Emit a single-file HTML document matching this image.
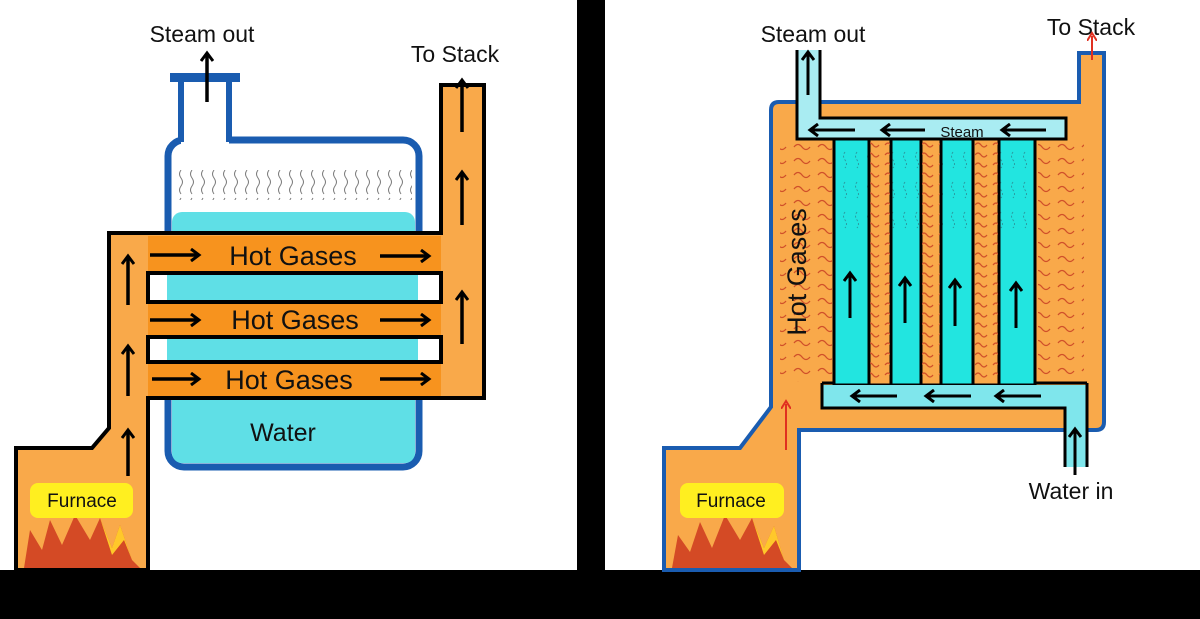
<!DOCTYPE html>
<html><head><meta charset="utf-8"><style>
html,body{margin:0;padding:0;background:#000;width:1200px;height:619px;overflow:hidden}
svg{display:block}
text{font-family:"Liberation Sans",sans-serif}
</style></head><body>
<svg width="1200" height="619" viewBox="0 0 1200 619" xmlns="http://www.w3.org/2000/svg">
<defs>
<pattern id="sq" x="0" y="0" width="11" height="28" patternUnits="userSpaceOnUse">
<path d="M5 2 q-3 4 0 8 q3 4 0 8 q-3 4 0 8" fill="none" stroke="#777" stroke-width="1"/>
</pattern>
<pattern id="wv" x="0" y="0" width="24" height="14" patternUnits="userSpaceOnUse">
<path d="M2 7 q4 -5 8 0 q4 5 8 0" fill="none" stroke="#d0502a" stroke-width="1.3"/>
</pattern>
<pattern id="wvs" x="0" y="0" width="18" height="10" patternUnits="userSpaceOnUse">
<path d="M3 5 q3 -4 6 0 q3 4 6 0" fill="none" stroke="#d0502a" stroke-width="1.2"/>
</pattern>
<pattern id="bw" x="0" y="0" width="12" height="30" patternUnits="userSpaceOnUse">
<path d="M5 2 q-3 4 0 8 q3 4 0 8" fill="none" stroke="#2a9aa0" stroke-width="1" stroke-dasharray="2 2"/>
</pattern>
<marker id="ah" markerWidth="12" markerHeight="14" refX="8" refY="7" orient="auto" markerUnits="userSpaceOnUse"><path d="M1 1 L9 7 L1 13" fill="none" stroke="#000" stroke-width="3"/></marker>
<marker id="ahr" markerWidth="10" markerHeight="10" refX="5" refY="5" orient="auto" markerUnits="userSpaceOnUse"><path d="M0 0 L8 5 L0 10" fill="none" stroke="#e03020" stroke-width="2"/></marker>
</defs>

<rect x="0" y="0" width="577" height="570" fill="#fff"/>
<rect x="605" y="0" width="595" height="570" fill="#fff"/>

<!-- ===== LEFT ===== -->
<text x="202" y="42" font-size="23" text-anchor="middle" fill="#111">Steam out</text>
<text x="455" y="62" font-size="23" text-anchor="middle" fill="#111">To Stack</text>

<rect x="168" y="140" width="251" height="327" rx="16" fill="#fff" stroke="#1a5cb0" stroke-width="7"/>
<rect x="172" y="212" width="243" height="251" rx="10" fill="#5fdfe6"/>
<rect x="178" y="170" width="234" height="30" fill="url(#sq)"/>
<rect x="181" y="78" width="48" height="68" fill="#fff"/>
<line x1="181" y1="78" x2="181" y2="142" stroke="#1a5cb0" stroke-width="6"/>
<line x1="229" y1="78" x2="229" y2="142" stroke="#1a5cb0" stroke-width="6"/>
<rect x="170" y="73" width="70" height="9" fill="#1a5cb0"/>
<line x1="207" y1="102" x2="207" y2="54" stroke="#000" stroke-width="3.5" marker-end="url(#ah)"/>

<path d="M109 233 L441 233 L441 85 L484 85 L484 398 L148 398 L148 570 L16 570 L16 448 L92 448 L109 428 Z" fill="#f9a94a" stroke="#000" stroke-width="4"/>
<rect x="148" y="236" width="293" height="37" fill="#f7931e"/>
<rect x="148" y="302" width="293" height="35" fill="#f7931e"/>
<rect x="148" y="362" width="293" height="34" fill="#f7931e"/>
<rect x="148" y="273" width="293" height="29" fill="#fff" stroke="#000" stroke-width="4"/>
<rect x="167" y="275" width="251" height="25" fill="#5fdfe6"/>
<rect x="148" y="337" width="293" height="25" fill="#fff" stroke="#000" stroke-width="4"/>
<rect x="167" y="339" width="251" height="21" fill="#5fdfe6"/>
<line x1="148" y1="398" x2="148" y2="570" stroke="#000" stroke-width="4"/>

<g font-size="27" fill="#111" text-anchor="middle">
<text x="293" y="265">Hot Gases</text>
<text x="295" y="329">Hot Gases</text>
<text x="289" y="389">Hot Gases</text>
</g>
<g stroke="#000" stroke-width="3.5">
<line x1="150" y1="255" x2="198" y2="255" marker-end="url(#ah)"/>
<line x1="380" y1="256" x2="428" y2="256" marker-end="url(#ah)"/>
<line x1="150" y1="320" x2="198" y2="320" marker-end="url(#ah)"/>
<line x1="380" y1="320" x2="428" y2="320" marker-end="url(#ah)"/>
<line x1="152" y1="379" x2="198" y2="379" marker-end="url(#ah)"/>
<line x1="380" y1="379" x2="428" y2="379" marker-end="url(#ah)"/>
<line x1="128" y1="305" x2="128" y2="257" marker-end="url(#ah)"/>
<line x1="128" y1="396" x2="128" y2="347" marker-end="url(#ah)"/>
<line x1="128" y1="476" x2="128" y2="431" marker-end="url(#ah)"/>
<line x1="462" y1="132" x2="462" y2="81" marker-end="url(#ah)"/>
<line x1="462" y1="225" x2="462" y2="173" marker-end="url(#ah)"/>
<line x1="462" y1="344" x2="462" y2="293" marker-end="url(#ah)"/>
</g>
<text x="283" y="441" font-size="25" text-anchor="middle" fill="#111">Water</text>

<path d="M24 568 L30 530 L42 550 L50 520 L62 545 L75 515 L90 540 L100 518 L112 548 L120 525 L132 560 L140 568 Z" fill="#d44a25"/>
<path d="M100 518 L112 548 L120 525 L132 560 L124 540 L112 555Z" fill="#ffc82a"/>
<rect x="30" y="483" width="103" height="35" rx="8" fill="#ffef20"/>
<text x="82" y="507" font-size="19" text-anchor="middle" fill="#111">Furnace</text>

<!-- ===== RIGHT ===== -->
<text x="813" y="42" font-size="23" text-anchor="middle" fill="#111">Steam out</text>
<text x="1091" y="35" font-size="23" text-anchor="middle" fill="#111">To Stack</text>

<path d="M771 110 Q771 102 779 102 L1079 102 L1079 53 L1104 53 L1104 422 Q1104 430 1096 430 L799 430 L799 570 L664 570 L664 448 L740 448 L771 407 Z" fill="#f9a94a" stroke="#1a5cb0" stroke-width="4"/>
<line x1="1092" y1="60" x2="1092" y2="36" stroke="#e03020" stroke-width="2" marker-end="url(#ahr)"/>

<rect x="780" y="142" width="52" height="240" fill="url(#wv)"/>
<rect x="1038" y="142" width="46" height="240" fill="url(#wv)"/>

<rect x="834" y="139" width="201" height="246" fill="#22e5e0" stroke="#000" stroke-width="3"/>
<rect x="838" y="145" width="193" height="90" fill="url(#bw)"/>
<path d="M797 50 L797 139 L1066 139 L1066 118 L820 118 L820 50" fill="#a9ecf2" stroke="#000" stroke-width="3"/>
<rect x="799" y="120" width="265" height="17" fill="#a9ecf2"/>
<line x1="797" y1="55" x2="797" y2="139" stroke="#000" stroke-width="3"/>
<rect x="869" y="139" width="22" height="246" fill="#f9a94a" stroke="#000" stroke-width="3"/>
<rect x="921" y="139" width="20" height="246" fill="#f9a94a" stroke="#000" stroke-width="3"/>
<rect x="973" y="139" width="26" height="246" fill="#f9a94a" stroke="#000" stroke-width="3"/>
<rect x="870" y="142" width="20" height="240" fill="url(#wvs)"/>
<rect x="922" y="142" width="18" height="240" fill="url(#wvs)"/>
<rect x="975" y="142" width="23" height="240" fill="url(#wvs)"/>
<rect x="823" y="385" width="263" height="22" fill="#7fe6ec"/>
<rect x="1066" y="385" width="20" height="82" fill="#7fe6ec"/>
<path d="M822 383 L822 408 L1065 408 L1065 467" fill="none" stroke="#000" stroke-width="3"/>
<line x1="822" y1="383" x2="834" y2="383" stroke="#000" stroke-width="3"/>
<line x1="1087" y1="383" x2="1087" y2="467" stroke="#000" stroke-width="3"/>
<line x1="1035" y1="383" x2="1087" y2="383" stroke="#000" stroke-width="3"/>

<g stroke="#000" stroke-width="3">
<line x1="855" y1="130" x2="811" y2="130" marker-end="url(#ah)"/>
<line x1="925" y1="130" x2="883" y2="130" marker-end="url(#ah)"/>
<line x1="1046" y1="130" x2="1003" y2="130" marker-end="url(#ah)"/>
<line x1="897" y1="396" x2="853" y2="396" marker-end="url(#ah)"/>
<line x1="971" y1="396" x2="927" y2="396" marker-end="url(#ah)"/>
<line x1="1041" y1="396" x2="997" y2="396" marker-end="url(#ah)"/>
<line x1="850" y1="318" x2="850" y2="274" marker-end="url(#ah)"/>
<line x1="905" y1="323" x2="905" y2="279" marker-end="url(#ah)"/>
<line x1="955" y1="326" x2="955" y2="281" marker-end="url(#ah)"/>
<line x1="1016" y1="328" x2="1016" y2="284" marker-end="url(#ah)"/>
<line x1="1075" y1="475" x2="1075" y2="430" marker-end="url(#ah)"/>
<line x1="808" y1="95" x2="808" y2="53" marker-end="url(#ah)"/>
</g>
<line x1="786" y1="450" x2="786" y2="404" stroke="#e03020" stroke-width="2" marker-end="url(#ahr)"/>
<text x="962" y="137" font-size="15" text-anchor="middle" fill="#111">Steam</text>
<text transform="translate(806,272) rotate(-90)" font-size="27" text-anchor="middle" fill="#111">Hot Gases</text>
<text x="1071" y="499" font-size="23" text-anchor="middle" fill="#111">Water in</text>

<path d="M672 568 L678 535 L690 552 L700 522 L712 548 L725 515 L740 540 L752 518 L764 548 L774 526 L784 560 L792 568 Z" fill="#d44a25"/>
<path d="M752 518 L764 548 L774 526 L784 560 L776 540 L764 555Z" fill="#ffc82a"/>
<rect x="680" y="483" width="104" height="35" rx="8" fill="#ffef20"/>
<text x="731" y="507" font-size="19" text-anchor="middle" fill="#111">Furnace</text>
</svg>
</body></html>
